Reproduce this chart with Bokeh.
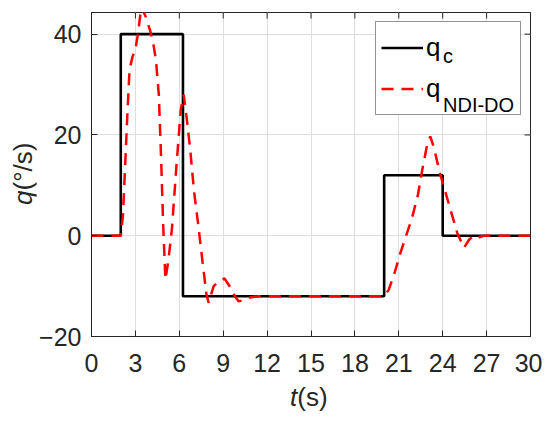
import math
from bokeh.plotting import figure
from bokeh.models import Range1d, FixedTicker, Legend, LegendItem, Label, Div
from bokeh.layouts import row, column
from bokeh.core.properties import value
from bokeh.embed import file_html
from bokeh.resources import INLINE
try:
    from bokeh.models import HTMLLabel as TextLabel
except ImportError:
    TextLabel = Label

# ---- data ----
x_lim = [0, 30]
y_lim = [-20, 44.3]
x_ticks = [0, 3, 6, 9, 12, 15, 18, 21, 24, 27, 30]
y_ticks = [-20, 0, 20, 40]
y_tick_labels = {-20: "\u221220", 0: "0", 20: "20", 40: "40"}

# command signal q_c (step, value held after each time)
t_cmd = [0, 2.0, 6.25, 20.0, 24.0, 30]
q_cmd = [0, 40, -12, 12, 0, 0]

# NDI-DO response
t_ndi = [0, 2.0, 2.15, 2.3, 2.45, 2.6, 2.8, 3.0, 3.2, 3.4, 3.7, 4.0, 4.2, 4.4,
         4.6, 4.75, 4.9, 5.05, 5.25, 5.5, 5.8, 6.1, 6.3, 6.5, 6.75, 7.0, 7.3,
         7.6, 7.85, 8.0, 8.35, 8.8, 9.1, 9.5, 9.8, 10.05, 10.4, 10.9, 11.5,
         20.0, 20.3, 20.7, 21.1, 21.5, 21.9, 22.3, 22.6, 22.9, 23.15, 23.4,
         23.8, 24.2, 24.6, 25.0, 25.45, 25.8, 26.1, 26.4, 26.8, 30]
q_ndi = [0, 0, 4, 14, 24, 33, 35.5, 37, 40.5, 45.5, 43.5, 40.8, 38.5, 35,
         28, 16, 2, -8.7, -5, 1.5, 13.7, 25, 28, 23.5, 17, 9, 2,
         -5.5, -11.5, -13.3, -10, -8.8, -8.5, -10.3, -12, -13, -12.8, -12.2, -12,
         -12, -10.8, -7.5, -3.5, 0, 3.5, 8, 13, 17.5, 19.7, 17.5,
         12.5, 8.5, 4.5, 0.5, -2.4, -0.8, 0, -0.4, 0, 0]

x_label_html = "<i>t</i>(s)"
y_label_html = "<i>q</i>(\u00b0/s)"

FONT = "Liberation Sans"
AX = "#262626"

p = figure(width=506, height=380, x_range=Range1d(*x_lim), y_range=Range1d(*y_lim),
           output_backend="svg", toolbar_location=None,
           min_border_left=54, min_border_right=12, min_border_top=12, min_border_bottom=44)
p.background_fill_color = "white"
p.border_fill_color = "white"
p.outline_line_color = AX
p.outline_line_width = 1

for ax in (p.xaxis[0], p.yaxis[0]):
    ax.major_tick_in = 6
    ax.major_tick_out = 0
    ax.minor_tick_in = 0
    ax.minor_tick_out = 0
    ax.axis_line_color = AX
    ax.major_tick_line_color = AX
    ax.major_label_text_font = FONT
    ax.major_label_text_font_size = "25px"
    ax.major_label_text_color = AX
p.xaxis[0].ticker = FixedTicker(ticks=x_ticks)
p.yaxis[0].ticker = FixedTicker(ticks=y_ticks)
p.yaxis[0].major_label_overrides = y_tick_labels
p.xaxis[0].major_label_standoff = 17
p.yaxis[0].major_label_standoff = 10

p.xgrid.grid_line_color = "#dedede"
p.ygrid.grid_line_color = "#dedede"
p.xgrid.ticker = FixedTicker(ticks=x_ticks)
p.ygrid.ticker = FixedTicker(ticks=y_ticks)

# top and right inward ticks (half of each dash is clipped by the frame)
p.scatter(x=x_ticks, y=[y_lim[1]] * len(x_ticks), marker="dash", size=12,
          angle=math.pi / 2, line_color=AX, line_width=1)
p.scatter(x=[x_lim[1]] * len(y_ticks), y=y_ticks, marker="dash", size=12,
          angle=0, line_color=AX, line_width=1)

r1 = p.step(t_cmd, q_cmd, mode="after", line_color="black", line_width=2.6)
r2 = p.line(t_ndi, q_ndi, line_color="#ff0000", line_width=2.5, line_dash="12 8")

legend = Legend(items=[LegendItem(label=value("q"), renderers=[r1]),
                       LegendItem(label=value("q"), renderers=[r2])],
                location="top_right", margin=9, padding=5, spacing=0,
                glyph_width=42, glyph_height=41, label_height=41, label_width=89,
                label_standoff=3, border_line_color=AX, border_line_width=1,
                background_fill_color="white", background_fill_alpha=1,
                label_text_font=FONT, label_text_font_size="26px",
                label_text_color="black", level="underlay")
p.add_layout(legend)

# subscripts of legend labels
for txt, yy in (("c", 280), ("NDI-DO", 231)):
    p.add_layout(TextLabel(x=352, y=yy, x_units="screen", y_units="screen", text=txt,
                           text_font=FONT, text_font_size="20px", text_color="black",
                           text_baseline="alphabetic", level="overlay"))

ydiv = Div(width=36, height=380, margin=0, text=(
    '<div style="width:36px;height:380px;box-sizing:border-box;writing-mode:vertical-rl;'
    'transform:rotate(180deg);text-align:center;padding-top:32px;padding-right:10px;'
    "font-family:'Liberation Sans';font-size:26px;line-height:26px;color:#262626;"
    'white-space:nowrap">' + y_label_html + '</div>'))
xdiv = Div(width=542, height=40, margin=0, text=(
    '<div style="margin-left:290px;margin-top:4px;'
    "font-family:'Liberation Sans';font-size:26px;line-height:26px;color:#262626;"
    'white-space:nowrap">' + x_label_html + '</div>'))

layout = column(row(ydiv, p), xdiv)

open("out.html", "w").write(file_html(layout, INLINE))
